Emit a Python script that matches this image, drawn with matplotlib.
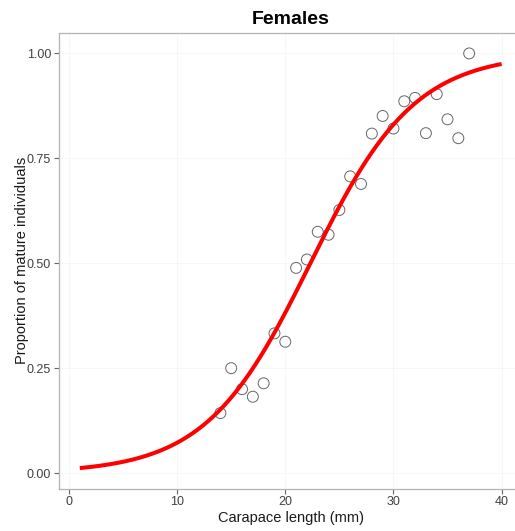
import numpy as np
import matplotlib
matplotlib.use("Agg")
import matplotlib.pyplot as plt

# Observed proportions of mature females by carapace length (mm)
length_mm = [14, 15, 16, 17, 18, 19, 20, 21, 22, 23, 24, 25, 26, 27, 28,
             29, 30, 31, 32, 33, 34, 35, 36, 37]
prop_mature = [0.143, 0.250, 0.200, 0.182, 0.214, 0.333, 0.313, 0.489, 0.509,
               0.575, 0.568, 0.627, 0.707, 0.689, 0.809, 0.851, 0.821, 0.886,
               0.894, 0.810, 0.903, 0.843, 0.798, 1.000]

# Fitted logistic model: p = 1 / (1 + exp(-(intercept + slope * L)))
logit_intercept = -4.62
logit_slope = 0.207
curve_range = (1, 40)

x_ticks = [0, 10, 20, 30, 40]
y_ticks = [0.00, 0.25, 0.50, 0.75, 1.00]
y_ticklabels = ["0.00", "0.25", "0.50", "0.75", "1.00"]

plt.rcParams['font.family'] = ['Liberation Sans', 'DejaVu Sans']

fig = plt.figure(figsize=(5.15, 5.31), dpi=100)
ax = fig.add_axes([58.7 / 515, 1 - 488.8 / 531, 464 / 515, (488.8 - 32.7) / 531])

xc = np.linspace(curve_range[0], curve_range[1], 400)
yc = 1.0 / (1.0 + np.exp(-(logit_intercept + logit_slope * xc)))

ax.scatter(length_mm, prop_mature, s=62, facecolors='none', edgecolors='#666666',
           linewidths=0.7, zorder=3)
ax.plot(xc, yc, color='#ff0000', lw=2.9, zorder=4, solid_capstyle='butt')

ax.set_xlim(-0.95, 41.95)
ax.set_ylim(-0.0374, 1.0494)
ax.set_xticks(x_ticks)
ax.set_yticks(y_ticks)
ax.set_yticklabels(y_ticklabels)
ax.grid(True, color='#f6f6f6', lw=0.6)
ax.set_axisbelow(True)

for s in ax.spines.values():
    s.set_color('#b3b3b3')
    s.set_linewidth(0.9)
ax.tick_params(axis='both', colors='#666666', length=3.5, width=0.8,
               labelsize=9, labelcolor='#404040', pad=2)

ax.set_xlabel("Carapace length (mm)", fontsize=10.5, color='#1a1a1a', labelpad=2)
ax.set_ylabel("Proportion of mature individuals", fontsize=10.5, color='#1a1a1a', labelpad=-1.5)
ax.set_title("Females", fontsize=14, fontweight='bold', pad=6)

fig.savefig("out.png", dpi=100)
